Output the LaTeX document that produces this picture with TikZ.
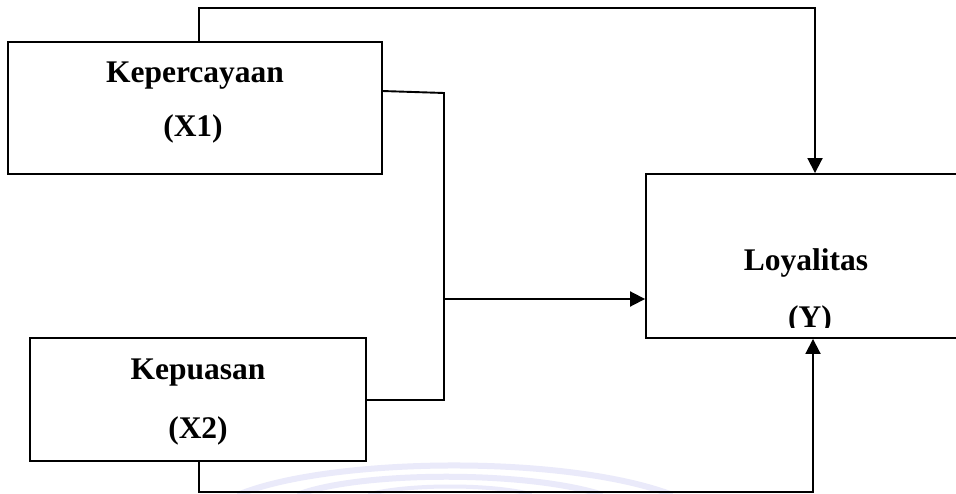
\documentclass[tikz,border=0pt]{standalone}
\usepackage{fontspec}
\setmainfont{Liberation Serif}
\usetikzlibrary{arrows.meta}
\definecolor{wmark}{RGB}{234,234,250}
\tikzset{
  box/.style={draw, line width=1.9pt, rectangle, inner sep=0pt},
  lbl/.style={font=\fontsize{31.5}{36}\selectfont\bfseries, anchor=base, inner sep=0pt},
  link/.style={line width=1.9pt},
  arrowlink/.style={link, -{Triangle[length=15pt,width=15pt]}},
  faint/.style={wmark, line width=6pt, line cap=round}
}
\begin{document}
\begin{tikzpicture}[x=1pt,y=-1pt]
  \useasboundingbox (0,0) rectangle (956,494);
  \clip (0,0) rectangle (956,494);
  \fill[white] (0,0) rectangle (956,494);

  % faint background swoosh
  \draw[faint] (300,494) .. controls (360,472) and (520,470) .. (600,494);
  \draw[faint] (240,494) .. controls (330,458) and (560,454) .. (670,494);
  \draw[faint, line width=4pt] (370,494) .. controls (410,484) and (490,484) .. (530,494);

  % boxes
  \node[box, minimum width=374pt, minimum height=132pt] (X1) at (195,108) {};
  \node[box, minimum width=336pt, minimum height=123pt] (X2) at (198,399.5) {};
  \node[box, minimum width=330pt, minimum height=164pt] (Y) at (811,256) {};

  % labels
  \node[lbl] (x1a) at (195,83) {Kepercayaan};
  \node[lbl] (x1b) at (193,137) {(X1)};
  \node[lbl] (x2a) at (198,379) {Kepuasan};
  \node[lbl] (x2b) at (198,438) {(X2)};
  \node[lbl] (ya) at (806,271) {Loyalitas};
  \begin{scope}
    \clip (700,290) rectangle (900,327.5);
    \node[lbl] (yb) at (810,328) {(Y)};
  \end{scope}

  % routing points
  \coordinate (t1) at (199,8);
  \coordinate (t2) at (815,8);
  \coordinate (a1) at (382,91);
  \coordinate (j1) at (444,93);
  \coordinate (j2) at (444,400);
  \coordinate (j3) at (444,299);
  \coordinate (b1) at (199,492);
  \coordinate (b2) at (813,492);

  % connectors
  \draw[arrowlink] (X1.north -| t1) -- (t1) -- (t2) -- (t2 |- Y.north);
  \draw[link] (a1) -- (j1) -- (j2) -- (X2.east |- j2);
  \draw[arrowlink] (j3) -- (Y.west |- j3);
  \draw[arrowlink] (X2.south -| b1) -- (b1) -- (b2) -- (b2 |- Y.south);
\end{tikzpicture}
\end{document}
